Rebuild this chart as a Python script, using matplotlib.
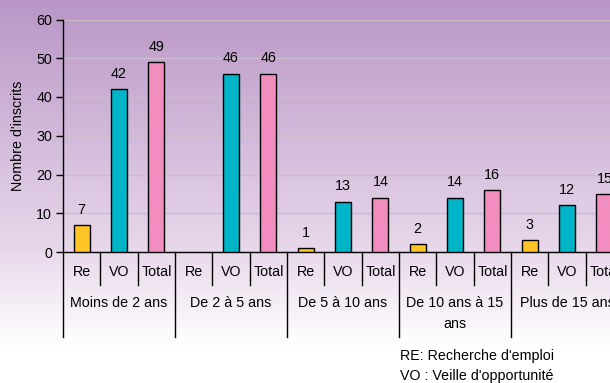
import numpy as np
import matplotlib
matplotlib.use("Agg")
import matplotlib.pyplot as plt
import matplotlib.transforms as mtransforms

plt.rcParams['font.family'] = ['Liberation Sans', 'DejaVu Sans']

groups = ["Moins de 2 ans", "De 2 à 5 ans", "De 5 à 10 ans", "De 10 ans à 15\nans", "Plus de 15 ans"]
series = ["Re", "VO", "Total"]
re_vals = [7, np.nan, 1, 2, 3]
vo_vals = [42, 46, 13, 14, 12]
total_vals = [49, 46, 14, 16, 15]
colors = ["#FFC425", "#00B5C8", "#F28EBF"]
yticks = [0, 10, 20, 30, 40, 50, 60]

FS = 10.3
W, H = 610, 383
fig = plt.figure(figsize=(W / 100, H / 100), dpi=100)

# background gradient
bg = fig.add_axes([0, 0, 1, 1], zorder=-10)
bg.axis('off')
n = 400
grad = np.zeros((n, 1, 3))
top = np.array([185, 150, 198]) / 255
mid = np.array([232, 216, 235]) / 255
white = np.array([1.0, 1.0, 1.0])
for i in range(n):
    ypix = i / n * H
    if ypix < 250:
        t = ypix / 250
        c = top * (1 - t) + mid * t
    elif ypix < 345:
        t = (ypix - 250) / 95
        c = mid * (1 - t) + white * t
    else:
        c = white
    grad[i, 0] = c
bg.imshow(grad, aspect='auto', extent=[0, 1, 0, 1], origin='upper')
bg.set_xlim(0, 1)
bg.set_ylim(0, 1)

x0, y0pix, ytop = 63, 252, 19.5
slot = 112 / 3
ax = fig.add_axes([x0 / W, 1 - y0pix / H, (W - x0) / W, (y0pix - ytop) / H])
ax.patch.set_alpha(0)
ax.set_ylim(0, 60)
ax.set_xlim(0, (W - x0) / slot)

vals = [re_vals, vo_vals, total_vals]
bw = 0.43
for s in range(3):
    xs = np.arange(len(groups)) * 3 + s + 0.5
    v = np.array(vals[s], dtype=float)
    mask = ~np.isnan(v)
    ax.bar(xs[mask], v[mask], width=bw, color=colors[s], edgecolor='black', linewidth=1, zorder=3)
    for xx, vv in zip(xs[mask], v[mask]):
        ax.annotate(f"{int(vv)}", (xx, vv), xytext=(0, 6), textcoords='offset points',
                    ha='center', va='bottom', fontsize=FS, color='black', zorder=4)

ax.set_yticks(yticks)
ax.tick_params(axis='y', direction='out', length=5, width=1, labelsize=FS, pad=3)
ax.set_xticks([])
ax.yaxis.grid(True, color='#cbbdcc', linewidth=1, zorder=0)
ax.set_axisbelow(True)
for sp in ['top', 'right']:
    ax.spines[sp].set_visible(False)
ax.spines['left'].set_linewidth(1)
ax.spines['bottom'].set_linewidth(1)
ax.set_ylabel("Nombre d'inscrits", fontsize=FS, labelpad=8)

trans = mtransforms.blended_transform_factory(ax.transData, ax.transAxes)
axh = y0pix - ytop
short = -(285 - y0pix) / axh
long_ = -(337 - y0pix) / axh
for gi in range(len(groups) + 1):
    xb = gi * 3
    ax.plot([xb, xb], [0, long_], transform=trans, color='black', lw=1, clip_on=False)
    if gi < len(groups):
        for k in (1, 2):
            ax.plot([xb + k, xb + k], [0, short], transform=trans, color='black', lw=1, clip_on=False)

sub_y = -(272 - y0pix) / axh
grp_y = -(296 - y0pix) / axh
for gi, g in enumerate(groups):
    for s, name in enumerate(series):
        ax.text(gi * 3 + s + 0.5, sub_y, name, transform=trans, ha='center', va='center',
                fontsize=FS, clip_on=False)
    ax.text(gi * 3 + 1.5, grp_y, g, transform=trans, ha='center', va='top',
            fontsize=FS, linespacing=1.6, clip_on=False)

fig.text(400 / W, 1 - 356 / H, "RE: Recherche d'emploi", ha='left', va='center', fontsize=FS)
fig.text(400 / W, 1 - 376 / H, "VO : Veille d'opportunité", ha='left', va='center', fontsize=FS)

fig.savefig("out.png", dpi=100)
